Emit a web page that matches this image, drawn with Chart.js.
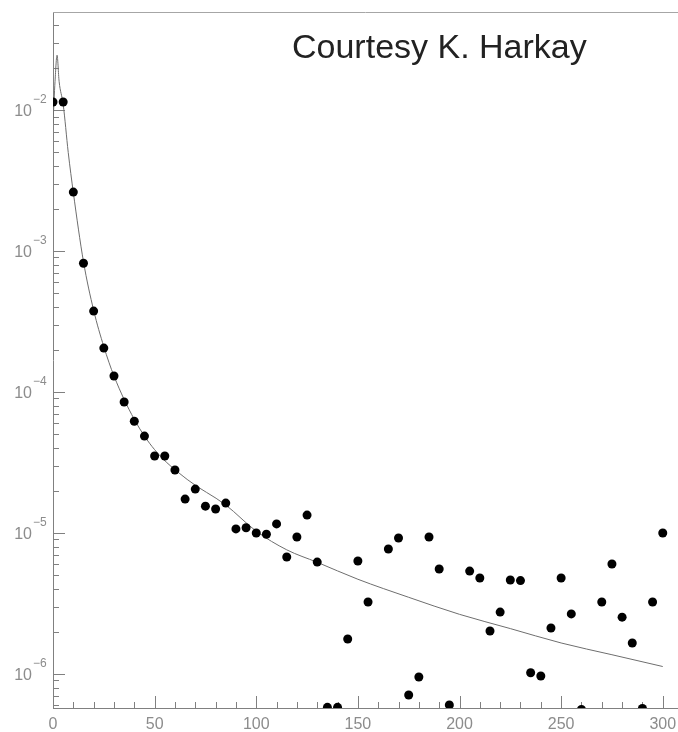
<!DOCTYPE html>
<html>
<head>
<meta charset="utf-8">
<script src="https://cdn.jsdelivr.net/npm/chart.js@4/dist/chart.umd.min.js"></script>
<style>
  html, body { margin: 0; padding: 0; background: #fff; overflow: hidden; }
  canvas { display: block; }
</style>
</head>
<body>
<canvas id="decayChart" width="678" height="732"></canvas>
<script>
// measured points (every 5 units), null where the point is off the plot
const xPoints = [0, 5, 10, 15, 20, 25, 30, 35, 40, 45, 50, 55, 60, 65, 70, 75, 80, 85, 90, 95,
  100, 105, 110, 115, 120, 125, 130, 135, 140, 145, 150, 155, 160, 165, 170, 175, 180, 185, 190, 195,
  200, 205, 210, 215, 220, 225, 230, 235, 240, 245, 250, 255, 260, 265, 270, 275, 280, 285, 290, 295, 300];
const yPoints = [1.14e-2, 1.14e-2, 2.62e-3, 8.2e-4, 3.75e-4, 2.05e-4, 1.3e-4, 8.5e-5, 6.2e-5, 4.87e-5,
  3.52e-5, 3.52e-5, 2.8e-5, 1.74e-5, 2.05e-5, 1.55e-5, 1.48e-5, 1.63e-5, 1.07e-5, 1.09e-5,
  1.0e-5, 9.8e-6, 1.16e-5, 6.76e-6, 9.37e-6, 1.34e-5, 6.22e-6, 5.8e-7, 5.8e-7, 1.77e-6,
  6.33e-6, 3.24e-6, null, 7.71e-6, 9.22e-6, 7.1e-7, 9.52e-7, 9.37e-6, 5.56e-6, 6.03e-7,
  null, 5.37e-6, 4.8e-6, 2.02e-6, 2.75e-6, 4.64e-6, 4.6e-6, 1.02e-6, 9.68e-7, 2.12e-6,
  4.8e-6, 2.67e-6, 5.6e-7, null, 3.24e-6, 6.03e-6, 2.53e-6, 1.66e-6, 5.7e-7, 3.24e-6, 1.0e-5];

// fitted curve
const xCurve = [0, 1, 2, 3, 5, 7.5, 10, 15, 20, 25, 30, 40, 50, 66, 85, 100, 115, 130, 150, 175, 200, 225, 250, 275, 300];
const yCurve = [8e-3, 1.6e-2, 2.45e-2, 1.6e-2, 1.1e-2, 5e-3, 2.6e-3, 8.4e-4, 3.8e-4, 2.1e-4, 1.3e-4, 6.4e-5, 3.9e-5,
  2.4e-5, 1.58e-5, 1.03e-5, 7.6e-6, 6.2e-6, 4.7e-6, 3.5e-6, 2.65e-6, 2.1e-6, 1.66e-6, 1.37e-6, 1.13e-6];

// axes
const xMin = 0, xMax = 307.5;
const yMin = 5.74e-7, yMax = 4.96e-2;
const xTickValues = [0, 10, 20, 30, 40, 50, 60, 70, 80, 90, 100, 110, 120, 130, 140, 150, 160, 170, 180, 190,
  200, 210, 220, 230, 240, 250, 260, 270, 280, 290, 300];
const yDecades = [-6, -5, -4, -3, -2];
const creditText = 'Courtesy K. Harkay';

const axisColor = '#808080';
const frameColor = '#a6a6a6';
const labelColor = '#8c8c8c';

// inward ticks, top frame line, superscript decade labels and the credit line
const framePlugin = {
  id: 'frame',
  beforeDatasetsDraw(chart) {
    const { ctx, chartArea, scales } = chart;
    const xs = scales.x, ys = scales.y;
    ctx.save();
    ctx.lineWidth = 1;
    // top frame
    ctx.strokeStyle = frameColor;
    ctx.beginPath();
    ctx.moveTo(chartArea.left, chartArea.top + 0.5);
    ctx.lineTo(chartArea.right, chartArea.top + 0.5);
    ctx.stroke();

    ctx.strokeStyle = axisColor;
    ctx.beginPath();
    // x ticks pointing up
    xTickValues.forEach(v => {
      const px = Math.round(xs.getPixelForValue(v)) + 0.5;
      const len = v % 50 === 0 ? 12 : 6;
      ctx.moveTo(px, chartArea.bottom);
      ctx.lineTo(px, chartArea.bottom - len);
    });
    // y ticks pointing right
    for (let e = -7; e <= -1; e++) {
      for (let m = 1; m <= 9; m++) {
        const v = m * Math.pow(10, e);
        if (v < yMin || v > yMax) continue;
        const py = Math.round(ys.getPixelForValue(v)) + 0.5;
        const len = m === 1 ? 12 : 6;
        ctx.moveTo(chartArea.left, py);
        ctx.lineTo(chartArea.left + len, py);
      }
    }
    ctx.stroke();
    ctx.restore();
  },
  afterDraw(chart) {
    const { ctx, scales } = chart;
    const ys = scales.y;
    ctx.save();
    ctx.fillStyle = labelColor;
    ctx.textBaseline = 'alphabetic';
    yDecades.forEach(e => {
      const py = ys.getPixelForValue(Math.pow(10, e));
      ctx.font = '16px "Liberation Sans", Arial, sans-serif';
      ctx.textAlign = 'right';
      ctx.fillText('10', 32, py + 6);
      ctx.font = '12px "Liberation Sans", Arial, sans-serif';
      ctx.textAlign = 'left';
      ctx.fillText('\u2212' + Math.abs(e), 33, py - 7);
    });
    ctx.fillStyle = '#222';
    ctx.font = '34px "Liberation Sans", Arial, sans-serif';
    ctx.fillText(creditText, 292, 58);
    ctx.restore();
  }
};

const ctx = document.getElementById('decayChart');

new Chart(ctx, {
  type: 'scatter',
  data: {
    datasets: [
      {
        label: 'data',
        data: xPoints.map((x, i) => ({ x: x, y: yPoints[i] })),
        backgroundColor: '#000',
        borderWidth: 0,
        pointRadius: 4.5,
        pointHoverRadius: 4.5,
        clip: 0
      },
      {
        label: 'fit',
        type: 'line',
        data: xCurve.map((x, i) => ({ x: x, y: yCurve[i] })),
        borderColor: '#6e6e6e',
        borderWidth: 1,
        pointRadius: 0,
        fill: false,
        cubicInterpolationMode: 'monotone',
        clip: 0
      }
    ]
  },
  options: {
    responsive: false,
    animation: false,
    layout: { autoPadding: false, padding: { top: 12, right: 0, left: 0, bottom: 0 } },
    plugins: {
      legend: { display: false },
      tooltip: { enabled: false }
    },
    scales: {
      x: {
        type: 'linear',
        min: xMin,
        max: xMax,
        bounds: 'data',
        afterBuildTicks: scale => {
          scale.ticks = xTickValues.map(v => ({ value: v }));
        },
        afterFit: scale => { scale.height = 24; },
        ticks: {
          autoSkip: false,
          maxRotation: 0,
          padding: 0,
          color: labelColor,
          font: { family: '"Liberation Sans", Arial, sans-serif', size: 16 },
          callback: v => (v % 50 === 0 ? String(v) : '')
        },
        // tick marks are drawn by the plugin; tickLength only offsets the labels
        grid: { display: false, drawTicks: true, tickLength: 7 },
        border: { display: true, color: axisColor, width: 1 }
      },
      y: {
        type: 'logarithmic',
        min: yMin,
        max: yMax,
        bounds: 'data',
        afterFit: scale => { scale.width = 53; },
        ticks: { display: false },
        grid: { display: false, drawTicks: false },
        border: { display: true, color: axisColor, width: 1 }
      }
    }
  },
  plugins: [framePlugin]
});
</script>
</body>
</html>
